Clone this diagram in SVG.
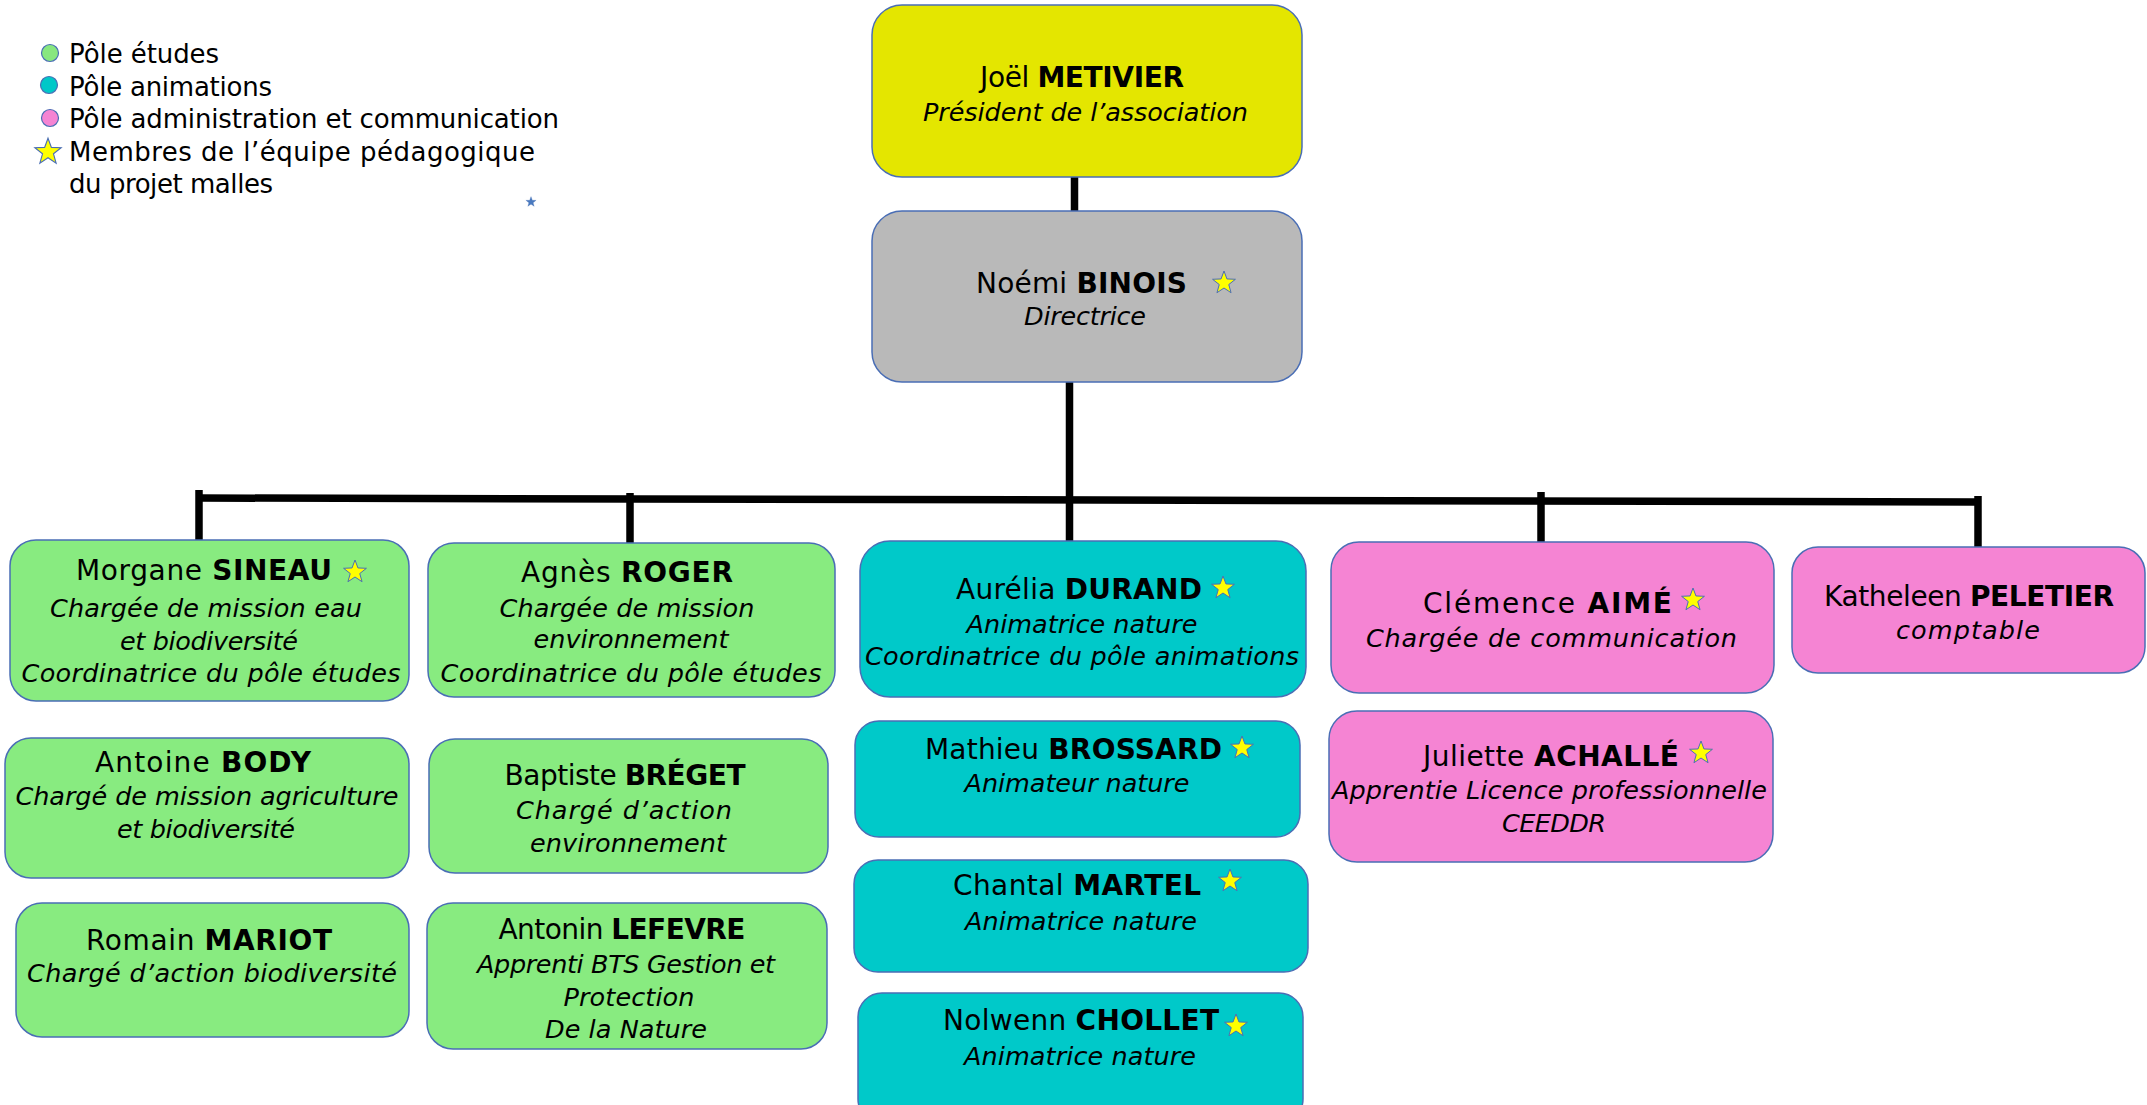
<svg xmlns="http://www.w3.org/2000/svg" width="2147" height="1105" viewBox="0 0 2147 1105">
<defs>
<style>
.box{stroke:#4a6eb5;stroke-width:1.5}
.g{fill:#88eb80}
.c{fill:#00c9c9}
.p{fill:#f584d3}
.t{font-family:"DejaVu Sans","Liberation Sans",sans-serif;font-size:25.5px;fill:#000;text-anchor:middle}
.n{font-size:28px}
.i{font-style:italic}
.b{font-weight:bold}
.lg{font-family:"DejaVu Sans","Liberation Sans",sans-serif;font-size:26px;fill:#000}
.conn{stroke:#000;stroke-width:7.5;fill:none}
.star{fill:#ffff00;stroke:#4a6eb5;stroke-width:1}
</style>
<polygon id="st" class="star" points="0,-12 2.94,-4.05 11.41,-3.71 4.76,1.55 7.05,9.71 0,5 -7.05,9.71 -4.76,1.55 -11.41,-3.71 -2.94,-4.05"/>
</defs>
<rect width="2147" height="1105" fill="#ffffff"/>

<g id="legend">
<circle cx="50" cy="53" r="8.5" fill="#88e77f" stroke="#4a6eb5" stroke-width="1.2"/>
<circle cx="49" cy="85" r="8.5" fill="#00c8c8" stroke="#4a6eb5" stroke-width="1.2"/>
<circle cx="50" cy="118" r="8.5" fill="#f584d3" stroke="#4a6eb5" stroke-width="1.2"/>
<use href="#st" transform="translate(48,152) scale(1.15)"/>
<text class="lg" x="69" y="63" textLength="150">Pôle études</text>
<text class="lg" x="69" y="96" textLength="203">Pôle animations</text>
<text class="lg" x="69" y="128" textLength="490">Pôle administration et communication</text>
<text class="lg" x="69" y="161" textLength="466">Membres de l’équipe pédagogique</text>
<text class="lg" x="69" y="193" textLength="204">du projet malles</text>
<polygon fill="#4a7ac0" stroke="#3d66a8" stroke-width="0.5" transform="translate(531,202) scale(0.45)" points="0,-12 2.94,-4.05 11.41,-3.71 4.76,1.55 7.05,9.71 0,5 -7.05,9.71 -4.76,1.55 -11.41,-3.71 -2.94,-4.05"/>
</g>

<g id="connectors">
<line class="conn" x1="1074.5" y1="177" x2="1074.5" y2="211"/>
<line class="conn" x1="1069.5" y1="382" x2="1069.5" y2="541"/>
<line class="conn" x1="199" y1="498" x2="1978" y2="502"/>
<line class="conn" x1="199" y1="490" x2="199" y2="540"/>
<line class="conn" x1="630" y1="493" x2="630" y2="543"/>
<line class="conn" x1="1541" y1="492" x2="1541" y2="542"/>
<line class="conn" x1="1978" y1="496" x2="1978" y2="547"/>
</g>

<g id="n-metivier">
<rect class="box" x="872" y="5" width="430" height="172" rx="30" fill="#e4e600"/>
<text class="t n" x="1082" y="87" textLength="204">Joël <tspan class="b">METIVIER</tspan></text>
<text class="t i" x="1085.5" y="121" textLength="325">Président de l’association</text>
</g>

<g id="n-binois">
<rect class="box" x="872" y="211" width="430" height="171" rx="30" fill="#b9b9b9"/>
<text class="t n" x="1081.5" y="293" textLength="211">Noémi <tspan class="b">BINOIS</tspan></text>
<use href="#st" x="1224" y="283"/>
<text class="t i" x="1085" y="325" textLength="122">Directrice</text>
</g>

<g id="n-sineau">
<rect class="box g" x="10" y="540" width="399" height="161" rx="26"/>
<text class="t n" x="204" y="580" textLength="256">Morgane <tspan class="b">SINEAU</tspan></text>
<use href="#st" x="355" y="572"/>
<text class="t i" x="206" y="617" textLength="312">Chargée de mission eau</text>
<text class="t i" x="209" y="650" textLength="178">et biodiversité</text>
<text class="t i" x="211" y="682" textLength="379">Coordinatrice du pôle études</text>
</g>

<g id="n-roger">
<rect class="box g" x="428" y="543" width="407" height="154" rx="26"/>
<text class="t n" x="627" y="582" textLength="212">Agnès <tspan class="b">ROGER</tspan></text>
<text class="t i" x="627" y="617" textLength="255">Chargée de mission</text>
<text class="t i" x="631" y="648" textLength="195">environnement</text>
<text class="t i" x="631" y="682" textLength="381">Coordinatrice du pôle études</text>
</g>

<g id="n-body">
<rect class="box g" x="5" y="738" width="404" height="140" rx="26"/>
<text class="t n" x="203" y="772" textLength="216">Antoine <tspan class="b">BODY</tspan></text>
<text class="t i" x="207" y="805" textLength="383">Chargé de mission agriculture</text>
<text class="t i" x="206" y="838" textLength="178">et biodiversité</text>
</g>

<g id="n-breget">
<rect class="box g" x="429" y="739" width="399" height="134" rx="26"/>
<text class="t n" x="625" y="785" textLength="241">Baptiste <tspan class="b">BRÉGET</tspan></text>
<text class="t i" x="624" y="819" textLength="216">Chargé d’action</text>
<text class="t i" x="628" y="852" textLength="196">environnement</text>
</g>

<g id="n-mariot">
<rect class="box g" x="16" y="903" width="393" height="134" rx="26"/>
<text class="t n" x="209" y="950" textLength="246">Romain <tspan class="b">MARIOT</tspan></text>
<text class="t i" x="212" y="982" textLength="370">Chargé d’action biodiversité</text>
</g>

<g id="n-lefevre">
<rect class="box g" x="427" y="903" width="400" height="146" rx="26"/>
<text class="t n" x="622" y="939" textLength="247">Antonin <tspan class="b">LEFEVRE</tspan></text>
<text class="t i" x="626" y="973" textLength="298">Apprenti BTS Gestion et</text>
<text class="t i" x="629" y="1006" textLength="131">Protection</text>
<text class="t i" x="626" y="1038" textLength="162">De la Nature</text>
</g>

<g id="n-durand">
<rect class="box c" x="860" y="541" width="446" height="156" rx="30"/>
<text class="t n" x="1079" y="599" textLength="246">Aurélia <tspan class="b">DURAND</tspan></text>
<use href="#st" x="1223" y="588"/>
<text class="t i" x="1082" y="633" textLength="231">Animatrice nature</text>
<text class="t i" x="1082" y="665" textLength="434">Coordinatrice du pôle animations</text>
</g>

<g id="n-brossard">
<rect class="box c" x="855" y="721" width="445" height="116" rx="24"/>
<text class="t n" x="1073.5" y="759" textLength="297">Mathieu <tspan class="b">BROSSARD</tspan></text>
<use href="#st" x="1242" y="748"/>
<text class="t i" x="1077" y="792" textLength="225">Animateur nature</text>
</g>

<g id="n-martel">
<rect class="box c" x="854" y="860" width="454" height="112" rx="24"/>
<text class="t n" x="1077" y="895" textLength="248">Chantal <tspan class="b">MARTEL</tspan></text>
<use href="#st" x="1230" y="881"/>
<text class="t i" x="1081" y="930" textLength="232">Animatrice nature</text>
</g>

<g id="n-chollet">
<rect class="box c" x="858" y="993" width="445" height="130" rx="24"/>
<text class="t n" x="1081" y="1030" textLength="276">Nolwenn <tspan class="b">CHOLLET</tspan></text>
<use href="#st" x="1236" y="1026"/>
<text class="t i" x="1080" y="1065" textLength="232">Animatrice nature</text>
</g>

<g id="n-aime">
<rect class="box p" x="1331" y="542" width="443" height="151" rx="28"/>
<text class="t n" x="1547.5" y="613" textLength="249">Clémence <tspan class="b">AIMÉ</tspan></text>
<use href="#st" x="1693" y="600"/>
<text class="t i" x="1551.5" y="647" textLength="371">Chargée de communication</text>
</g>

<g id="n-peletier">
<rect class="box p" x="1792" y="547" width="353" height="126" rx="26"/>
<text class="t n" x="1969" y="606" textLength="290">Katheleen <tspan class="b">PELETIER</tspan></text>
<text class="t i" x="1968" y="639" textLength="144">comptable</text>
</g>

<g id="n-achalle">
<rect class="box p" x="1329" y="711" width="444" height="151" rx="28"/>
<text class="t n" x="1551" y="766" textLength="256">Juliette <tspan class="b">ACHALLÉ</tspan></text>
<use href="#st" x="1701" y="753"/>
<text class="t i" x="1549.5" y="799" textLength="435">Apprentie Licence professionnelle</text>
<text class="t i" x="1554" y="832" textLength="104">CEEDDR</text>
</g>
</svg>
